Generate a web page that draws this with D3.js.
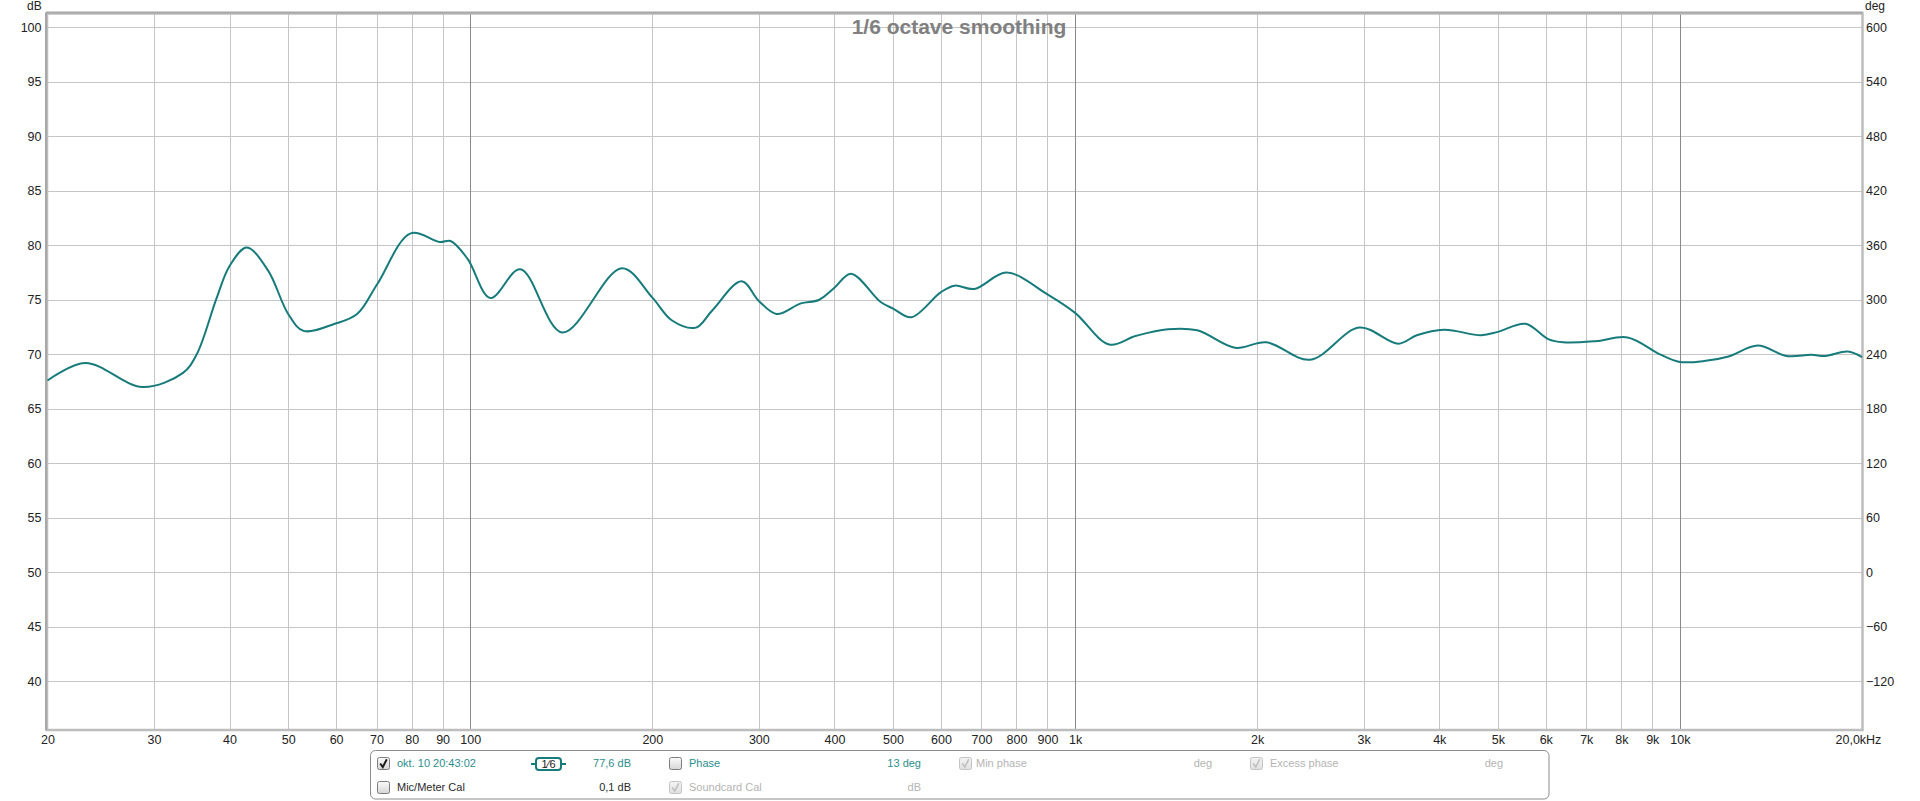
<!DOCTYPE html>
<html>
<head>
<meta charset="utf-8">
<script src="https://cdn.jsdelivr.net/npm/d3@7"></script>
<style>
html,body{margin:0;padding:0;background:#fff;}
svg{display:block;}
</style>
</head>
<body>
<svg id="chart" width="1920" height="801"></svg>
<script>
// ---- data ----
const freqHz = [20, 23.1, 28.7, 33.5, 35.3, 38.1, 40, 42.7, 46.3, 50, 53, 59.7, 65, 70.2, 79.7, 89, 92.8, 99, 108, 121, 142, 178, 200, 215.6, 236, 251, 281, 300, 321, 352, 377, 400, 426, 477, 500, 536, 600, 632, 682, 770, 900, 1000, 1139, 1262, 1424, 1592, 1838, 2072, 2446, 2950, 3425, 3672, 4076, 4692, 5000, 5554, 6056, 6412, 7250, 8194, 9268, 10000, 11028, 12032, 13448, 14992, 16500, 17400, 18940, 20000];
const splDb = [67.6, 69.2, 67.0, 68.3, 70.0, 75.2, 78.1, 79.8, 77.7, 73.7, 72.15, 72.8, 73.7, 76.45, 81.1, 80.3, 80.4, 78.75, 75.16, 77.8, 72.0, 77.9, 75.2, 73.1, 72.45, 74.0, 76.7, 74.9, 73.7, 74.67, 74.98, 76.1, 77.4, 74.8, 74.2, 73.4, 75.7, 76.3, 76.0, 77.5, 75.5, 73.8, 70.9, 71.7, 72.3, 72.2, 70.6, 71.1, 69.5, 72.45, 70.98, 71.75, 72.25, 71.75, 72.06, 72.8, 71.4, 71.1, 71.2, 71.55, 70.0, 69.3, 69.4, 69.8, 70.8, 69.85, 69.95, 69.85, 70.25, 69.75];

const xTickValues = [20, 30, 40, 50, 60, 70, 80, 90, 100, 200, 300, 400, 500, 600, 700, 800, 900, 1000, 2000, 3000, 4000, 5000, 6000, 7000, 8000, 9000, 10000, 20000];
const xTickLabels = ["20", "30", "40", "50", "60", "70", "80", "90", "100", "200", "300", "400", "500", "600", "700", "800", "900", "1k", "2k", "3k", "4k", "5k", "6k", "7k", "8k", "9k", "10k", "20,0kHz"];
const decadeLines = [100, 1000, 10000];
const dbTicks = [40, 45, 50, 55, 60, 65, 70, 75, 80, 85, 90, 95, 100];
const degTicks = [-120, -60, 0, 60, 120, 180, 240, 300, 360, 420, 480, 540, 600];
const titleText = "1/6 octave smoothing";

// ---- layout ----
const L = 47.5, R = 1862, T = 14, B = 729.5;
const svg = d3.select("#chart");
const x = d3.scaleLog().domain([20, 20000]).range([L, R]);
const y = d3.scaleLinear().domain([35.58, 101.22]).range([B, T]);
const yDeg = d3.scaleLinear().domain([(35.58 - 50) * 12, (101.22 - 50) * 12]).range([B, T]);

const font = "'Liberation Sans', Arial, sans-serif";

// background
svg.append("rect").attr("x", L).attr("y", T).attr("width", R - L).attr("height", B - T).attr("fill", "#fff");

// horizontal grid
const gy = svg.append("g").attr("transform", `translate(${L},0)`)
  .call(d3.axisLeft(y).tickValues(dbTicks).tickSize(-(R - L)).tickFormat(""));
gy.select(".domain").remove();
gy.selectAll("line").attr("stroke", "#c6c6c6").attr("stroke-width", 1).attr("shape-rendering", "crispEdges");

// vertical grid
const gridX = xTickValues.filter(v => v > 20 && v < 20000);
const gx = svg.append("g").attr("transform", `translate(0,${T})`)
  .call(d3.axisBottom(x).tickValues(gridX).tickSize(B - T).tickFormat(""));
gx.select(".domain").remove();
gx.selectAll("line")
  .attr("stroke", d => decadeLines.includes(d) ? "#8a8a8a" : "#c6c6c6")
  .attr("stroke-width", 1).attr("shape-rendering", "crispEdges");

// frame
svg.append("rect").attr("x", L - 0.5).attr("y", T - 0.5).attr("width", R - L + 1).attr("height", B - T + 1)
  .attr("fill", "none").attr("stroke", "#bdbdbd").attr("stroke-width", 2.5);
svg.append("line").attr("x1", L - 1.5).attr("x2", L - 1.5).attr("y1", T - 1.5).attr("y2", B + 1)
  .attr("stroke", "#a8a8a8").attr("stroke-width", 2);
svg.append("line").attr("x1", L - 1.5).attr("x2", R + 1).attr("y1", T - 1.5).attr("y2", T - 1.5)
  .attr("stroke", "#a8a8a8").attr("stroke-width", 2);

// title
svg.append("text").attr("x", 959).attr("y", 34).attr("text-anchor", "middle")
  .attr("font-family", font).attr("font-weight", "bold").attr("font-size", 21)
  .attr("fill", "#808080").text(titleText);

// curve
const line = d3.line().x(d => x(d[0])).y(d => y(d[1])).curve(d3.curveCatmullRom.alpha(0.5));
const pts = freqHz.map((f, i) => [f, splDb[i]]);
svg.append("path").attr("d", line(pts)).attr("fill", "none")
  .attr("stroke", "#177b7b").attr("stroke-width", 2).attr("stroke-linejoin", "round");

// left axis labels
const ay = svg.append("g").attr("transform", `translate(${L - 3},0)`)
  .call(d3.axisLeft(y).tickValues(dbTicks).tickSize(0).tickPadding(3).tickFormat(d3.format("d")));
ay.select(".domain").remove();
ay.selectAll("text").attr("font-family", font).attr("font-size", 12.5).attr("fill", "#222");

// right axis labels
const ar = svg.append("g").attr("transform", `translate(${R + 2},0)`)
  .call(d3.axisRight(yDeg).tickValues(degTicks).tickSize(0).tickPadding(2).tickFormat(d3.format("d")));
ar.select(".domain").remove();
ar.selectAll("text").attr("font-family", font).attr("font-size", 12.5).attr("fill", "#222");

// unit labels
svg.append("text").attr("x", 27).attr("y", 10).attr("font-family", font).attr("font-size", 12).attr("fill", "#222").text("dB");
svg.append("text").attr("x", 1865).attr("y", 10).attr("font-family", font).attr("font-size", 12).attr("fill", "#222").text("deg");

// bottom axis labels
const ax = svg.append("g").attr("transform", `translate(0,${B})`)
  .call(d3.axisBottom(x).tickValues(xTickValues).tickSize(0).tickPadding(6)
    .tickFormat((d, i) => xTickLabels[i]));
ax.select(".domain").remove();
ax.selectAll("text").attr("font-family", font).attr("font-size", 12.5).attr("fill", "#222");
ax.selectAll(".tick").filter(d => d === 20000).select("text")
  .attr("text-anchor", "start").attr("x", 1835 - R);

// ---- legend ----
const leg = svg.append("g");
leg.append("rect").attr("x", 370.5).attr("y", 750.5).attr("width", 1178.5).attr("height", 48.5)
  .attr("rx", 5).attr("fill", "#fff").attr("stroke", "#8c8c8c").attr("stroke-width", 1);

const defs = svg.append("defs");
const grad = defs.append("linearGradient").attr("id", "cb").attr("x1", 0).attr("y1", 0).attr("x2", 0).attr("y2", 1);
grad.append("stop").attr("offset", "0%").attr("stop-color", "#fbfbfb");
grad.append("stop").attr("offset", "100%").attr("stop-color", "#d6d6d6");
const grad2 = defs.append("linearGradient").attr("id", "cbd").attr("x1", 0).attr("y1", 0).attr("x2", 0).attr("y2", 1);
grad2.append("stop").attr("offset", "0%").attr("stop-color", "#f4f4f4");
grad2.append("stop").attr("offset", "100%").attr("stop-color", "#e0e0e0");

function checkbox(cx, cy, checked, disabled) {
  const g = leg.append("g").attr("transform", `translate(${cx},${cy})`);
  g.append("rect").attr("x", 0.5).attr("y", 0.5).attr("width", 12).attr("height", 12).attr("rx", 2)
    .attr("fill", disabled ? "url(#cbd)" : "url(#cb)").attr("stroke", disabled ? "#c4c4c4" : "#7c7c7c");
  if (checked) {
    g.append("path").attr("d", "M3.2,6.5 L5.8,10 L9.8,2.2").attr("fill", "none")
      .attr("stroke", disabled ? "#c0c0c0" : "#1e1e1e").attr("stroke-width", disabled ? 1.6 : 2);
  }
}
function ltext(tx, ty, str, color, anchor) {
  leg.append("text").attr("x", tx).attr("y", ty).attr("font-family", font).attr("font-size", 11)
    .attr("fill", color).attr("text-anchor", anchor || "start").text(str);
}
const teal = "#2b8e8e", grey = "#b4b4b4", dark = "#2a2a2a";
const r1 = 767, r2 = 791;
checkbox(377, 757, true, false);
ltext(397, r1, "okt. 10 20:43:02", teal);
// smoothing badge
leg.append("line").attr("x1", 531).attr("x2", 536).attr("y1", 764).attr("y2", 764).attr("stroke", "#177b7b").attr("stroke-width", 2);
leg.append("line").attr("x1", 561).attr("x2", 566).attr("y1", 764).attr("y2", 764).attr("stroke", "#177b7b").attr("stroke-width", 2);
leg.append("rect").attr("x", 536).attr("y", 758).attr("width", 25).attr("height", 12).attr("rx", 3)
  .attr("fill", "#fff").attr("stroke", "#177b7b").attr("stroke-width", 2);
leg.append("text").attr("x", 548.5).attr("y", 768).attr("text-anchor", "middle").attr("font-family", font)
  .attr("font-size", 11).attr("fill", "#222").text("1⁄6");
ltext(631, r1, "77,6 dB", teal, "end");
checkbox(669, 757, false, false);
ltext(689, r1, "Phase", teal);
ltext(921, r1, "13 deg", teal, "end");
checkbox(959, 757, true, true);
ltext(976, r1, "Min phase", grey);
ltext(1212, r1, "deg", grey, "end");
checkbox(1250, 757, true, true);
ltext(1270, r1, "Excess phase", grey);
ltext(1503, r1, "deg", grey, "end");

checkbox(377, 781, false, false);
ltext(397, r2, "Mic/Meter Cal", dark);
ltext(631, r2, "0,1 dB", dark, "end");
checkbox(669, 781, true, true);
ltext(689, r2, "Soundcard Cal", grey);
ltext(921, r2, "dB", grey, "end");
</script>
</body>
</html>
